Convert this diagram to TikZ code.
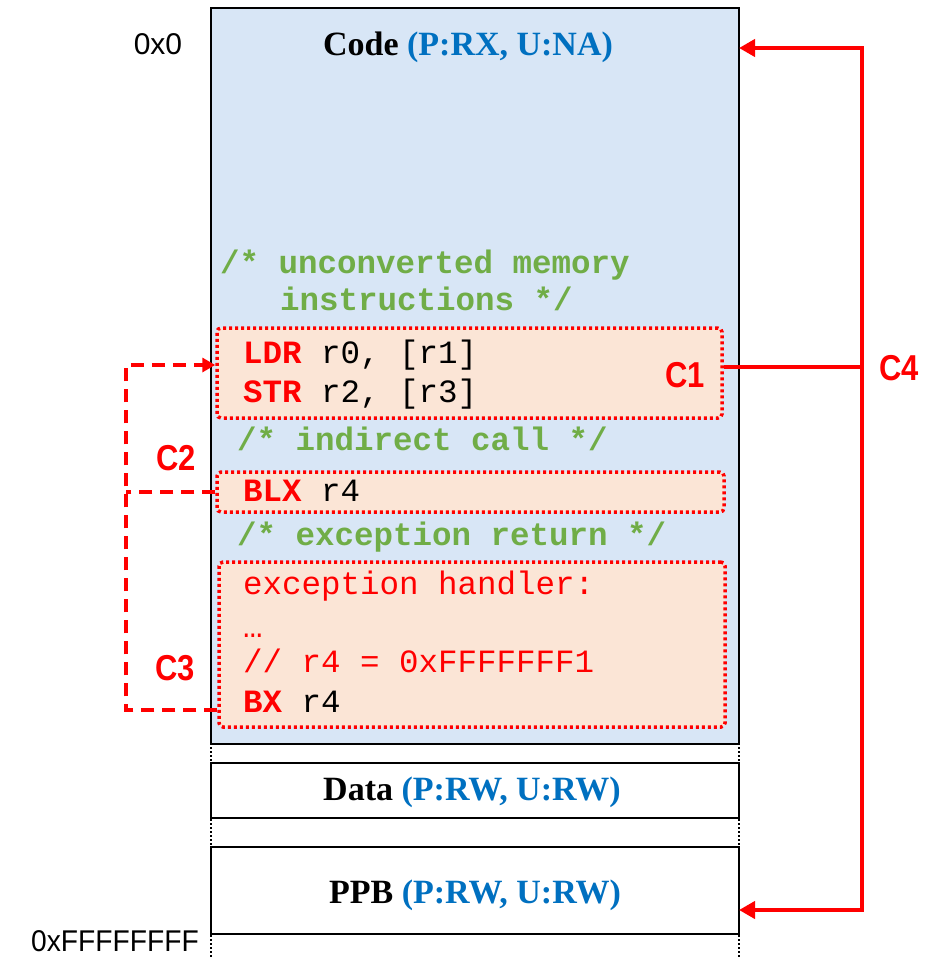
\documentclass[tikz,border=0pt]{standalone}
\usepackage{fontspec}
\setmainfont{Liberation Serif}
\newfontfamily\codefont{Liberation Mono}
\newfontfamily\addrfont{Liberation Sans}
\newfontfamily\addrcond[FakeStretch=0.94]{Liberation Sans}
\newfontfamily\lblfont[FakeStretch=0.86]{Liberation Sans}
\usetikzlibrary{arrows.meta}
\definecolor{codebg}{RGB}{216,230,246}
\definecolor{peach}{RGB}{251,229,214}
\definecolor{permblue}{RGB}{0,112,192}
\definecolor{cmtgreen}{RGB}{112,173,71}
\definecolor{cred}{RGB}{255,0,0}
\begin{document}
\begin{tikzpicture}[x=1pt,y=-1pt,
  region/.style={draw=black,line width=2.2pt,minimum width=528pt,inner sep=0pt},
  instbox/.style={draw=cred,fill=peach,line width=3.5pt,dash pattern=on 3pt off 3pt,rounded corners=4pt,inner sep=0pt},
  title/.style={font=\fontsize{34}{38}\selectfont\bfseries,inner sep=0pt,anchor=base},
  code/.style={font=\codefont\fontsize{32.5}{36}\selectfont,inner sep=0pt,anchor=base west},
  cmt/.style={code,text=cmtgreen,font=\codefont\bfseries\fontsize{32.5}{36}\selectfont},
  lbl/.style={font=\lblfont\bfseries\fontsize{36}{40}\selectfont,text=cred,inner sep=0pt},
  addr/.style={inner sep=0pt},
  redline/.style={draw=cred,line width=4.5pt},
  dashline/.style={draw=cred,line width=4pt,dash pattern=on 13pt off 8pt},
]
\useasboundingbox (0,0) rectangle (938,958);
% dotted side lines
\draw[line width=2pt,dash pattern=on 2pt off 2pt] (211,235) -- (211,958);
\draw[line width=2pt,dash pattern=on 2pt off 2pt] (739,235) -- (739,958);
% regions
\node[region,fill=codebg,minimum height=736pt] (code) at (475,376) {};
\node[region,fill=white,minimum height=55pt] (data) at (475,790.5) {};
\node[region,fill=white,minimum height=87pt] (ppb) at (475,890.5) {};
\node[title] (codet) at (468,56) {Code \textcolor{permblue}{(P:RX, U:NA)}};
\node[title] (datat) at (472,800) {Data \textcolor{permblue}{(P:RW, U:RW)}};
\node[title] (ppbt) at (475,903) {PPB \textcolor{permblue}{(P:RW, U:RW)}};
% addresses
\node[addr,font=\addrfont\fontsize{30}{34}\selectfont,anchor=base] (a0) at (158,55) {0x0};
\node[addr,font=\addrcond\fontsize{30}{34}\selectfont,anchor=base east] (a1) at (199,951) {0xFFFFFFFF};
% instruction boxes
\node[instbox,minimum width=505pt,minimum height=90pt] (c1box) at (469.5,373) {};
\node[instbox,minimum width=507pt,minimum height=40pt] (c2box) at (470.5,492) {};
\node[instbox,minimum width=506pt,minimum height=165pt] (c3box) at (472,644.5) {};
% code text
\node[cmt] (m1) at (220,273) {/* unconverted memory};
\node[cmt] (m2) at (280,310) {instructions */};
\node[code] (l1) at (243,363) {\textcolor{cred}{\bfseries LDR} r0, [r1]};
\node[code] (l2) at (243,402) {\textcolor{cred}{\bfseries STR} r2, [r3]};
\node[cmt] (m3) at (237,450) {/* indirect call */};
\node[code] (l3) at (243,501) {\textcolor{cred}{\bfseries BLX} r4};
\node[cmt] (m4) at (237,545) {/* exception return */};
\node[code,text=cred] (l4) at (243,594) {exception handler:};
\node[code,text=cred] (l5) at (243,637) {…};
\node[code,text=cred] (l6) at (243,672) {// r4 = 0xFFFFFFF1};
\node[code] (l7) at (243,712) {\textcolor{cred}{\bfseries BX} r4};
% labels
\node[lbl] (lc1) at (685,375) {C1};
\node[lbl] (lc2) at (176,458) {C2};
\node[lbl] (lc3) at (175,668) {C3};
\node[lbl] (lc4) at (899,368) {C4};
% C4 connector
\coordinate (j) at (862,367);
\coordinate (ttop) at (739,48);
\coordinate (tbot) at (739,910);
\draw[redline] (c1box.east |- j) -- (j);
\draw[redline,-{Triangle[length=16pt,width=17pt]}] (j) |- (ttop);
\draw[redline,-{Triangle[length=16pt,width=17pt]}] (j) |- (tbot);
% C2/C3 dashed connector
\coordinate (bxl) at (126,710);
\coordinate (ldrl) at (126,365);
\draw[dashline,-{Triangle[length=13pt,width=14pt]}] (c3box.west |- bxl) -- (bxl) -- (ldrl) -- (c1box.west |- ldrl);
\draw[dashline] (c2box.west) -- (c2box.west -| bxl);
\end{tikzpicture}
\end{document}
